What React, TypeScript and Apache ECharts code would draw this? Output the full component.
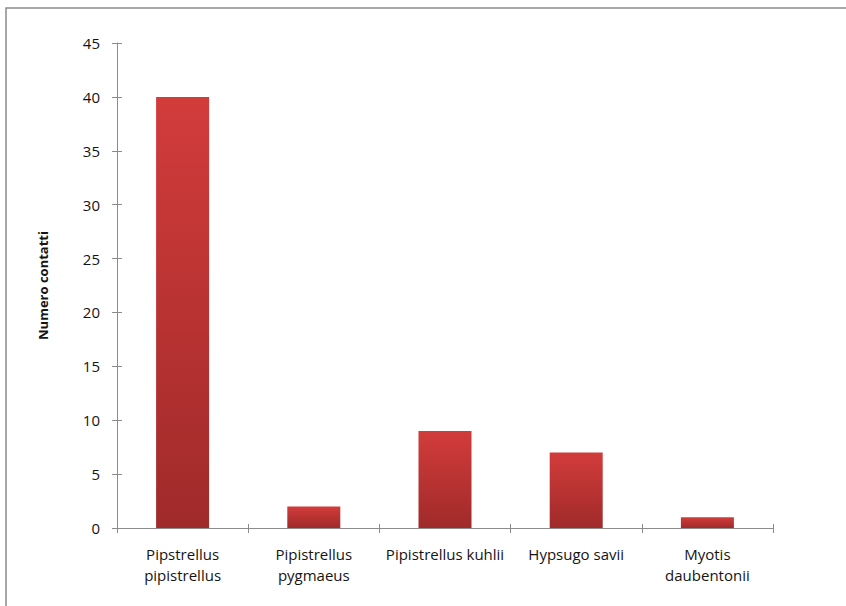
import React, { useEffect, useRef } from "react";
import * as echarts from "echarts";

const categories = [
  "Pipstrellus\npipistrellus",
  "Pipistrellus\npygmaeus",
  "Pipistrellus kuhlii",
  "Hypsugo savii",
  "Myotis\ndaubentonii",
];
const values = [40, 2, 9, 7, 1];
const yTicks = { min: 0, max: 45, interval: 5 };
const yAxisName = "Numero contatti";

const FONT = "'Open Sans', Lato, sans-serif";

export default function App() {
  const ref = useRef<HTMLDivElement>(null);
  useEffect(() => {
    if (!ref.current) return;
    const chart = echarts.init(ref.current, null, { renderer: "svg" });
    const axisLineStyle = { color: "#8c8c8c", width: 1 };
    chart.setOption({
      animation: false,
      backgroundColor: "#ffffff",
      textStyle: { fontFamily: FONT },
      grid: { left: 117, right: 73, top: 43, bottom: 78, containLabel: false },
      graphic: [
        {
          type: "rect",
          shape: { x: 6, y: 8, width: 900, height: 700 },
          style: { fill: "none", stroke: "#8a8a8a", lineWidth: 1.5 },
          silent: true,
          z: -10,
        },
      ],
      xAxis: [
        {
          type: "category",
          data: categories,
          axisLine: { lineStyle: axisLineStyle },
          axisTick: { show: true, length: 5, lineStyle: axisLineStyle },
          axisLabel: {
            color: "#141414",
            fontSize: 15,
            fontFamily: FONT,
            margin: 15,
            lineHeight: 21,
            interval: 0,
          },
          splitLine: { show: false },
        },
        {
          type: "category",
          data: categories,
          position: "bottom",
          axisLine: { show: false },
          axisTick: { show: true, inside: true, length: 4, lineStyle: axisLineStyle },
          axisLabel: { show: false },
          splitLine: { show: false },
        },
      ],
      yAxis: [
        {
          type: "value",
          min: yTicks.min,
          max: yTicks.max,
          interval: yTicks.interval,
          name: yAxisName,
          nameLocation: "middle",
          nameGap: 68,
          nameTextStyle: {
            color: "#141414",
            fontSize: 13,
            fontWeight: "bold",
            fontFamily: FONT,
          },
          axisLine: { show: true, lineStyle: axisLineStyle },
          axisTick: { show: true, length: 5, lineStyle: axisLineStyle },
          axisLabel: { color: "#141414", fontSize: 15, fontFamily: FONT, margin: 17 },
          splitLine: { show: false },
        },
        {
          type: "value",
          min: yTicks.min,
          max: yTicks.max,
          interval: yTicks.interval,
          position: "left",
          axisLine: { show: false },
          axisTick: { show: true, inside: true, length: 5, lineStyle: axisLineStyle },
          axisLabel: { show: false },
          splitLine: { show: false },
        },
      ],
      series: [
        {
          type: "bar",
          data: values,
          xAxisIndex: 0,
          yAxisIndex: 0,
          barWidth: 53,
          itemStyle: {
            color: new echarts.graphic.LinearGradient(0, 0, 0, 1, [
              { offset: 0, color: "#d23c3b" },
              { offset: 1, color: "#a02a2a" },
            ]),
          },
        },
      ],
    });
    return () => chart.dispose();
  }, []);
  return (
    <div
      ref={ref}
      style={{ position: "fixed", left: 0, top: 0, width: 846, height: 606 }}
    />
  );
}
